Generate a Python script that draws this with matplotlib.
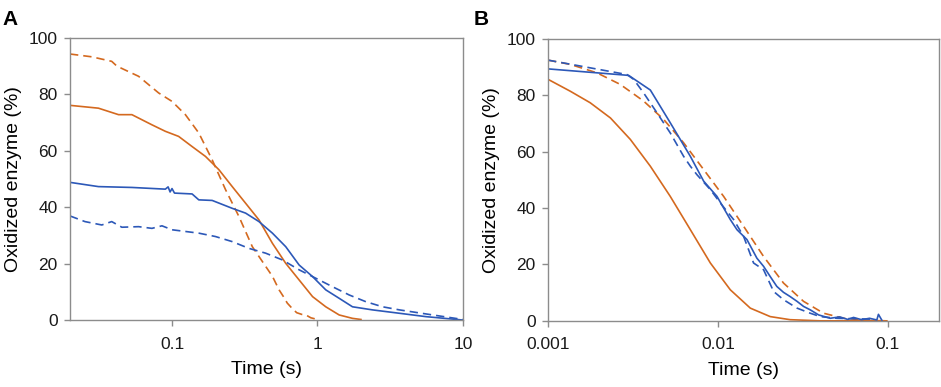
import matplotlib

matplotlib.use("Agg")
import matplotlib.pyplot as plt
from matplotlib.ticker import FixedLocator, NullLocator

ORANGE = "#D4691F"
BLUE = "#2C58B8"
FRAME = "#8C8C8C"

# Panel A: time (s) and oxidized enzyme (%)
a_orange_dash_t = [0.0199, 0.0281, 0.0385, 0.0418, 0.0589, 0.0809, 0.1, 0.1236, 0.1528,
                   0.1888, 0.2334, 0.2884, 0.3565, 0.4406, 0.49, 0.5445, 0.58, 0.62,
                   0.673, 0.72, 0.78, 0.832, 0.9, 1.0]
a_orange_dash_y = [94.3, 93.3, 91.7, 90.0, 86.4, 80.5, 77.5, 72.8, 66.3,
                   56.8, 46.2, 36.7, 26.0, 19.0, 15.5, 10.7, 8.5, 6.0,
                   4.0, 2.6, 2.0, 1.8, 0.8, 0.2]
a_orange_solid_t = [0.0199, 0.0312, 0.0429, 0.053, 0.0728, 0.09, 0.111, 0.1374, 0.1698,
                    0.21, 0.2594, 0.3206, 0.396, 0.49, 0.605, 0.748, 0.925, 1.14,
                    1.41, 1.74, 1.99]
a_orange_solid_y = [76.1, 75.1, 72.8, 72.8, 69.2, 66.9, 65.1, 61.5, 58.0,
                    53.3, 47.3, 41.4, 35.5, 27.2, 20.1, 14.2, 8.3, 4.7,
                    1.8, 0.6, 0.2]
a_blue_solid_t = [0.0199, 0.0312, 0.053, 0.09, 0.094, 0.097, 0.1, 0.104, 0.1374, 0.1528,
                  0.1888, 0.2594, 0.3206, 0.396, 0.49, 0.605, 0.748, 0.925, 1.14,
                  1.41, 1.74, 2.39, 3.66, 5.58, 10.0]
a_blue_solid_y = [48.8, 47.3, 47.0, 46.4, 47.2, 45.4, 46.6, 45.0, 44.7, 42.6,
                  42.4, 39.6, 37.9, 34.9, 30.8, 26.0, 19.5, 15.4, 10.7,
                  7.7, 4.7, 3.6, 2.4, 1.2, 0.0]
a_blue_dash_t = [0.0199, 0.0252, 0.0329, 0.0385, 0.0452, 0.0589, 0.0728, 0.0853, 0.1,
                 0.1236, 0.1528, 0.199, 0.2594, 0.338, 0.4406, 0.574, 0.748, 0.975,
                 1.27, 1.65, 2.15, 2.8, 3.66, 6.2, 10.0]
a_blue_dash_y = [36.9, 34.9, 33.7, 34.9, 32.9, 33.1, 32.5, 33.4, 32.0,
                 31.4, 30.8, 29.6, 27.8, 25.4, 23.7, 21.3, 17.8, 14.8,
                 11.8, 8.9, 6.5, 4.7, 3.6, 1.8, 0.2]

# Panel B
b_orange_dash_t = [0.001, 0.00135, 0.00194, 0.00266, 0.00365, 0.00479, 0.00628, 0.00824,
                   0.0108, 0.01416, 0.01856, 0.0243, 0.0319, 0.0418, 0.0548, 0.0787, 0.0986]
b_orange_dash_y = [92.4, 90.9, 87.9, 83.8, 77.9, 71.4, 63.1, 53.6,
                   44.1, 33.5, 22.8, 13.4, 6.9, 2.7, 0.9, 0.1, 0.0]
b_orange_solid_t = [0.001, 0.00135, 0.00177, 0.00233, 0.00305, 0.004, 0.00524, 0.00688,
                    0.00902, 0.01182, 0.0155, 0.0203, 0.0266, 0.04, 0.0986]
b_orange_solid_y = [85.6, 81.4, 77.3, 71.9, 64.3, 54.8, 44.1, 32.3,
                    20.5, 11.0, 4.5, 1.5, 0.4, 0.0, 0.0]
b_blue_solid_t = [0.001, 0.00298, 0.0040, 0.00524, 0.00688, 0.00824, 0.00987, 0.01182,
                  0.01294, 0.01481, 0.01695, 0.01856, 0.0203, 0.0222, 0.0243, 0.0266,
                  0.0292, 0.0319, 0.0349, 0.0391, 0.0458, 0.052, 0.058, 0.0628, 0.07,
                  0.078, 0.0861, 0.088, 0.0922]
b_blue_solid_y = [89.3, 87.0, 81.8, 70.2, 58.3, 49.5, 44.1, 35.9,
                  32.3, 28.8, 22.2, 19.3, 15.7, 12.2, 10.1, 8.6,
                  6.9, 5.1, 3.9, 2.1, 0.9, 1.4, 0.5, 1.2, 0.4,
                  0.9, 0.3, 2.3, 0.2]
b_blue_dash_t = [0.001, 0.00291, 0.00319, 0.00365, 0.00438, 0.00524, 0.00628, 0.00688,
                 0.00752, 0.00902, 0.01032, 0.01236, 0.01416, 0.0162, 0.01856, 0.02126,
                 0.0243, 0.0292, 0.0349, 0.04, 0.0501, 0.0787]
b_blue_dash_y = [92.4, 87.3, 85.6, 80.8, 73.7, 66.6, 58.3, 54.8,
                 51.8, 46.5, 41.8, 35.9, 29.9, 20.5, 18.1, 10.4,
                 7.5, 4.5, 2.7, 1.5, 0.9, 0.6]

A_TICKS = [0.1, 1, 10]
A_TICK_LABELS = ["0.1", "1", "10"]
B_TICKS = [0.001, 0.01, 0.1]
B_TICK_LABELS = ["0.001", "0.01", "0.1"]
Y_TICKS = [0, 20, 40, 60, 80, 100]

plt.rcParams.update({
    "font.family": ["Liberation Sans", "DejaVu Sans"],
    "font.size": 12,
    "axes.edgecolor": FRAME,
    "axes.linewidth": 1.0,
    "xtick.color": FRAME,
    "ytick.color": FRAME,
    "xtick.labelcolor": "#1A1A1A",
    "ytick.labelcolor": "#1A1A1A",
})

DASH = (0, (5, 3))

fig = plt.figure(figsize=(9.41, 3.87), dpi=100)
ax_a = fig.add_axes([0.0744, 0.173, 0.4176, 0.729])
ax_b = fig.add_axes([0.5824, 0.171, 0.4155, 0.729])


def style(ax, xlim, ticks, labels):
    ax.set_xscale("log")
    ax.set_xlim(*xlim)
    ax.set_ylim(0, 100)
    ax.xaxis.set_major_locator(FixedLocator(ticks))
    ax.xaxis.set_minor_locator(NullLocator())
    ax.set_xticklabels(labels, fontsize=12.5)
    ax.set_yticks(Y_TICKS)
    ax.set_yticklabels([str(v) for v in Y_TICKS], fontsize=12.5)
    ax.tick_params(axis="both", direction="out", length=4, width=1.0, pad=5)
    ax.tick_params(axis="x", pad=8)
    ax.set_xlabel("Time (s)", fontsize=14, labelpad=7)
    ax.set_ylabel("Oxidized enzyme (%)", fontsize=14, labelpad=5)


lw = 1.2
ax_a.plot(a_orange_dash_t, a_orange_dash_y, color=ORANGE, lw=lw, linestyle=DASH)
ax_a.plot(a_orange_solid_t, a_orange_solid_y, color=ORANGE, lw=lw)
ax_a.plot(a_blue_solid_t, a_blue_solid_y, color=BLUE, lw=lw)
ax_a.plot(a_blue_dash_t, a_blue_dash_y, color=BLUE, lw=lw, linestyle=DASH)
style(ax_a, (0.0199, 10), A_TICKS, A_TICK_LABELS)

ax_b.plot(b_orange_dash_t, b_orange_dash_y, color=ORANGE, lw=lw, linestyle=DASH)
ax_b.plot(b_orange_solid_t, b_orange_solid_y, color=ORANGE, lw=lw)
ax_b.plot(b_blue_solid_t, b_blue_solid_y, color=BLUE, lw=lw)
ax_b.plot(b_blue_dash_t, b_blue_dash_y, color=BLUE, lw=lw, linestyle=DASH)
style(ax_b, (0.001, 0.2), B_TICKS, B_TICK_LABELS)

fig.text(0.003, 0.975, "A", fontsize=15, fontweight="bold", va="top")
fig.text(0.503, 0.975, "B", fontsize=15, fontweight="bold", va="top")

fig.savefig("out.png", dpi=100)
